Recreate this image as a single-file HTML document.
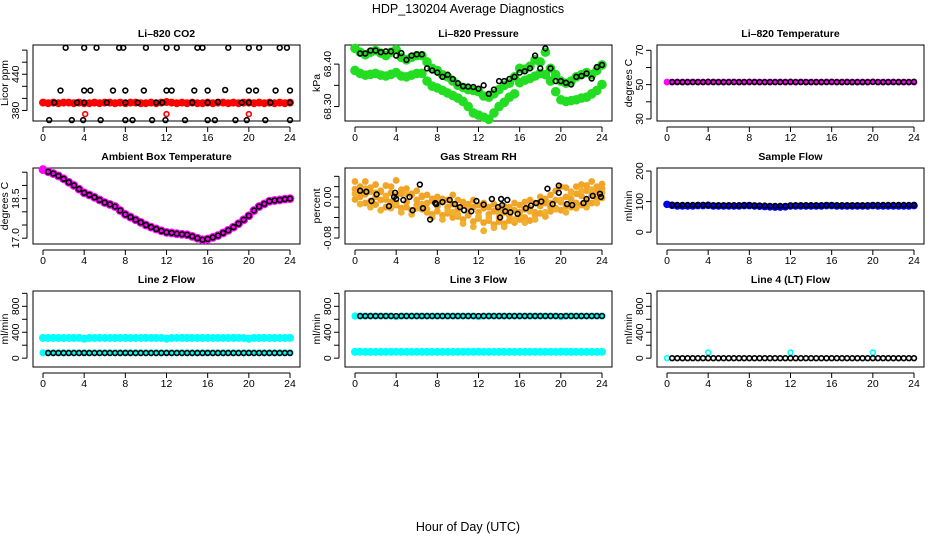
<!DOCTYPE html>
<html><head><meta charset="utf-8"><style>
html,body{margin:0;padding:0;background:#fff;}
svg{display:block;font-family:"Liberation Sans",Arial,sans-serif;}
</style></head><body>
<svg id="chart" width="936" height="540" viewBox="0 0 936 540" xmlns="http://www.w3.org/2000/svg">
<text x="468" y="13" text-anchor="middle" font-size="12.5">HDP_130204   Average Diagnostics</text>
<text x="468" y="531" text-anchor="middle" font-size="12.5">Hour of Day (UTC)</text>
</svg>
<script>
const hoursDense = [0,0.5,1,1.5,2,2.5,3,3.5,4,4.5,5,5.5,6,6.5,7,7.5,8,8.5,9,9.5,10,10.5,11,11.5,12,12.5,13,13.5,14,14.5,15,15.5,16,16.5,17,17.5,18,18.5,19,19.5,20,20.5,21,21.5,22,22.5,23,23.5,24];
const hoursBlack = [0.5,1,1.5,2,2.5,3,3.5,4,4.5,5,5.5,6,6.5,7,7.5,8,8.5,9,9.5,10,10.5,11,11.5,12,12.5,13,13.5,14,14.5,15,15.5,16,16.5,17,17.5,18,18.5,19,19.5,20,20.5,21,21.5,22,22.5,23,23.5,24];
const xTickLabels = [0,4,8,12,16,20,24];

const co2Red = [393,392,393,392,393,393,392,393,392,392,393,392,393,393,392,393,392,393,393,392,392,393,392,393,394,393,392,393,392,393,392,392,393,392,393,393,392,393,392,393,393,392,393,392,393,392,393,392,393];
const co2RedOutHours = [4.1,12,20];
const co2RedOutVals = [374,374,374];
const co2BlackHours = [2.2,4,5.2,7.4,7.8,10,12,13,15,15.5,18,20,21,23,23.7, 1.1,3.3,4,6.2,8,9.2,11,11.6,14.5,16,17,19.3,20,22.1,24, 1.7,4,4.6,6.8,8,9.8,12,12.5,14.7,16,17.7,20,20.7,22.6,24, 0.6,2.8,3.9,5.6,8,8.7,10.6,11.9,13.8,16,16.7,18.7,19.8,21.6,24];
const co2BlackVals = [484,484,484,484,484,484,484,484,484,484,484,484,484,484,484, 393,393,393,393,393,393,393,393,393,393,394,393,393,393,393, 413,413,413,413,413,413,413,413,413,413,414,413,413,413,413, 364,364,364,364,364,364,364,364,364,364,364,364,364,364,364];

const pressA = [68.437,68.428,68.422,68.428,68.432,68.426,68.42,68.428,68.434,68.416,68.41,68.416,68.42,68.42,68.405,68.39,68.385,68.375,68.37,68.36,68.35,68.345,68.34,68.338,68.335,68.325,68.322,68.33,68.34,68.35,68.355,68.37,68.39,68.388,68.395,68.41,68.405,68.428,68.39,68.375,68.36,68.355,68.36,68.37,68.375,68.38,68.375,68.385,68.398];
const pressB = [68.385,68.378,68.374,68.376,68.378,68.374,68.372,68.376,68.38,68.372,68.37,68.374,68.378,68.378,68.36,68.348,68.344,68.338,68.332,68.326,68.32,68.312,68.3,68.285,68.28,68.275,68.27,68.285,68.3,68.31,68.322,68.33,68.356,68.362,68.366,68.372,68.378,68.375,68.36,68.335,68.316,68.312,68.314,68.316,68.32,68.322,68.33,68.338,68.352];
const pressBlack = [68.425,68.425,68.432,68.432,68.428,68.43,68.43,68.42,68.426,68.41,68.42,68.423,68.423,68.39,68.385,68.38,68.37,68.375,68.365,68.355,68.348,68.347,68.346,68.342,68.35,68.33,68.34,68.36,68.36,68.365,68.37,68.38,68.383,68.39,68.42,68.39,68.437,68.39,68.36,68.36,68.356,68.352,68.37,68.372,68.378,68.366,68.393,68.398];

const tempMag = [51.5,51.5,51.6,51.5,51.5,51.6,51.5,51.5,51.5,51.6,51.5,51.5,51.5,51.6,51.5,51.5,51.5,51.6,51.5,51.5,51.5,51.5,51.6,51.5,51.5,51.5,51.6,51.5,51.5,51.5,51.5,51.6,51.5,51.5,51.5,51.6,51.5,51.5,51.5,51.5,51.6,51.5,51.5,51.5,51.6,51.5,51.5,51.5,51.5];
const tempBlack = [51.5,51.5,51.5,51.5,51.5,51.5,51.5,51.6,51.5,51.5,51.5,51.5,51.5,51.5,51.5,51.6,51.5,51.5,51.5,51.5,51.5,51.5,51.5,51.6,51.5,51.5,51.5,51.5,51.5,51.5,51.5,51.6,51.5,51.5,51.5,51.5,51.5,51.5,51.5,51.6,51.5,51.5,51.5,51.5,51.5,51.5,51.5,51.6];

const ambient = [19.6,19.52,19.45,19.36,19.25,19.12,19.0,18.86,18.72,18.64,18.55,18.45,18.35,18.28,18.2,18.05,17.9,17.8,17.7,17.6,17.5,17.42,17.35,17.28,17.22,17.2,17.17,17.15,17.13,17.07,17.0,16.94,16.97,17.03,17.1,17.2,17.3,17.42,17.55,17.7,17.85,18.05,18.2,18.3,18.4,18.43,18.45,18.48,18.5];

const rhOrange1 = [0.015,0.02,0.005,0.01,0.0,0.012,-0.005,0.008,0.003,0.006,-0.01,0.004,-0.006,0.0,-0.012,-0.004,-0.018,-0.01,-0.02,-0.014,-0.024,-0.016,-0.028,-0.02,-0.03,-0.022,-0.034,-0.028,-0.04,-0.03,-0.036,-0.026,-0.03,-0.024,-0.022,-0.03,-0.018,-0.012,-0.02,-0.006,-0.01,0.0,-0.004,0.006,0.002,0.012,0.004,0.01,0.016];
const rhOrange2 = [-0.005,0.0,-0.012,-0.008,-0.015,-0.006,-0.02,-0.01,-0.016,-0.022,-0.02,-0.026,-0.016,-0.024,-0.03,-0.034,-0.028,-0.036,-0.032,-0.04,-0.038,-0.044,-0.036,-0.048,-0.042,-0.05,-0.046,-0.054,-0.048,-0.052,-0.046,-0.05,-0.044,-0.04,-0.046,-0.036,-0.032,-0.038,-0.028,-0.022,-0.026,-0.018,-0.02,-0.012,-0.016,-0.008,-0.012,-0.004,-0.002];
const rhOrange3 = [0.03,0.008,0.03,0.018,0.024,0.01,0.022,0.02,0.032,0.014,0.016,0.006,0.012,0.002,0.004,-0.008,0.0,-0.004,-0.006,0.004,-0.006,-0.01,-0.014,-0.006,-0.016,-0.012,-0.02,-0.014,-0.024,-0.018,-0.02,-0.012,-0.016,-0.01,-0.006,-0.012,0.0,-0.004,0.004,0.012,0.02,0.018,0.01,0.02,0.024,0.022,0.03,0.02,0.025];
const rhOrange4 = [0.006,-0.014,0.016,-0.02,0.008,-0.026,0.002,-0.022,-0.012,-0.03,0.006,-0.034,-0.022,-0.014,-0.024,-0.04,-0.01,-0.044,-0.026,-0.03,-0.034,-0.052,-0.024,-0.058,-0.038,-0.066,-0.04,-0.06,-0.032,-0.058,-0.028,-0.044,-0.036,-0.05,-0.028,-0.044,-0.01,-0.03,-0.012,-0.024,-0.006,-0.03,0.008,-0.022,0.012,-0.02,0.014,-0.012,0.008];
const rhBlack = [0.012,0.01,0.005,-0.008,-0.018,-0.004,0.008,-0.006,0.0,-0.026,0.024,-0.014,-0.012,-0.022,0.0,-0.044,-0.01,-0.006,-0.014,-0.02,-0.026,-0.028,-0.008,-0.015,-0.004,-0.02,-0.016,-0.006,-0.004,-0.04,-0.028,-0.03,-0.033,-0.022,-0.017,-0.012,-0.009,-0.014,0.016,0.008,0.022,-0.014,-0.016,-0.012,-0.004,0.002,0.006,0.0];
const rhBlackHours = [0.5,1.1,2.1,1.6,3.3,4,3.9,4.7,5.3,5.6,6.3,7.9,7.8,6.6,3.8,7.3,8.5,9.2,9.7,10.2,10.6,11.3,11.8,12.5,13.3,13.9,14.3,14.8,14.2,14.1,14.6,15.1,15.8,16.6,17.1,17.6,18.1,19.2,18.7,19.8,19.8,20.6,21.1,22.2,22.5,23.1,23.8,23.9];

const sampleBlue = [91,88,86,86,86,86,87,87,88,86,86,86,86,86,86,87,87,86,85,84,83,82,82,83,86,86,86,86,86,86,86,87,87,86,86,86,86,86,86,86,87,86,86,86,86,86,86,86,87];
const sampleBlack = [89,89,89,89,89,89,89,89,88,88,88,88,88,88,88,88,87,87,87,86,86,86,86,87,88,88,88,88,88,88,88,88,88,88,88,88,88,88,88,88,89,89,89,89,89,89,89,89];

const line2CyanHi = [312,312,313,312,311,312,312,313,300,312,312,313,312,312,311,312,313,312,312,312,313,312,312,312,300,312,312,313,312,312,312,312,313,312,312,312,312,313,312,312,300,312,312,313,312,312,312,312,313];
const line2CyanLo = [82,82,83,82,82,82,82,83,82,82,82,83,82,82,82,82,83,82,82,82,82,83,82,82,82,82,83,82,82,82,82,83,82,82,82,82,83,82,82,82,82,83,82,82,82,82,83,82,82];
const line2Black = [80,80,80,80,80,80,80,81,80,80,80,80,80,80,80,81,80,80,80,80,80,80,80,81,80,80,80,80,80,80,80,81,80,80,80,80,80,80,80,81,80,80,80,80,80,80,80,81];

const line3CyanHi = [650,650,650,650,650,650,650,650,640,650,650,650,650,650,650,650,650,650,650,650,650,650,650,650,640,650,650,650,650,650,650,650,650,650,650,650,650,650,650,650,640,650,650,650,650,650,650,650,650];
const line3CyanLo = [98,100,98,97,98,98,98,98,100,98,98,98,98,98,98,98,98,98,98,98,98,98,98,98,100,98,98,98,98,98,98,98,98,98,98,98,98,98,98,98,100,98,98,98,98,98,98,98,98];
const line3Black = [650,650,650,650,650,650,650,650,650,650,650,650,650,650,650,650,650,650,650,650,650,650,650,650,650,650,650,650,650,650,650,650,650,650,650,650,650,650,650,650,650,650,650,650,650,650,650,650];

const line4CyanHours = [0,4,12,20];
const line4CyanVals = [0,88,88,88];
const line4Black = [0,0,0,0,0,0,0,0,0,0,0,0,0,0,0,0,0,0,0,0,0,0,0,0,0,0,0,0,0,0,0,0,0,0,0,0,0,0,0,0,0,0,0,0,0,0,0,0];

const co2YTicks = [380,400,420,440,460,480];
const co2YLabels = ["380","","","440","",""];
const pressYTicks = [68.30,68.35,68.40];
const pressYLabels = ["68.30","","68.40"];
const tempYTicks = [30,40,50,60,70];
const tempYLabels = ["30","","50","","70"];
const ambYTicks = [17.0,17.5,18.0,18.5,19.0,19.5];
const ambYLabels = ["17.0","","","18.5","",""];
const rhYTicks = [-0.08,-0.06,-0.04,-0.02,0.00,0.02,0.04];
const rhYLabels = ["-0.08","","","","0.00","",""];
const sfYTicks = [0,100,200];
const sfYLabels = ["0","100","200"];
const flowYTicks = [0,200,400,600,800,1000];
const flowYLabels = ["0","","400","","800",""];

const svg = document.getElementById('chart');
const NS = 'http://www.w3.org/2000/svg';
function mk(tag, attrs, parent){
  const e = document.createElementNS(NS, tag);
  for (const k in attrs) e.setAttribute(k, attrs[k]);
  (parent||svg).appendChild(e);
  return e;
}
const colX = [33, 345, 657];
const rowY = [45, 168, 291];
const BW = 267, BH = 76;

function makePanel(col, row, name, title, ylab, yDomain, yTicks, yLabels){
  const g = mk('g', {});
  
  
  const x0 = colX[col], y0 = rowY[row];
  const xs = h => x0 + 10 + h * 247 / 24;
  const ys = v => y0 + BH - (v - yDomain[0]) / (yDomain[1] - yDomain[0]) * BH;
  const t = mk('text', {x: x0 + BW/2, y: y0 - 8, 'text-anchor':'middle', 'font-size':'10.5', 'font-weight':'bold'}, g);
  t.textContent = title;
  
  
  const box = mk('rect', {x: x0, y: y0, width: BW, height: BH, fill:'none', stroke:'#000', 'stroke-width':'1'}, g);
  
  
  const xa = mk('g', {}, g);
  
  
  mk('line', {x1: xs(0), x2: xs(24), y1: y0+BH+6, y2: y0+BH+6, stroke:'#000'}, xa);
  xTickLabels.forEach(h => {
    mk('line', {x1: xs(h), x2: xs(h), y1: y0+BH+6, y2: y0+BH+11, stroke:'#000'}, xa);
    const l = mk('text', {x: xs(h), y: y0+BH+20, 'text-anchor':'middle', 'font-size':'10.5'}, xa);
    l.textContent = h;
  });
  const ya = mk('g', {}, g);
  
  
  mk('line', {x1: x0-6, x2: x0-6, y1: ys(yTicks[0]), y2: ys(yTicks[yTicks.length-1]), stroke:'#000'}, ya);
  yTicks.forEach((v,i) => {
    mk('line', {x1: x0-11, x2: x0-6, y1: ys(v), y2: ys(v), stroke:'#000'}, ya);
    if (yLabels[i]) {
      const l = mk('text', {x: x0-14, y: ys(v), 'text-anchor':'middle', 'font-size':'10.5', transform:`rotate(-90 ${x0-14} ${ys(v)})`}, ya);
      l.textContent = yLabels[i];
    }
  });
  const yt = mk('text', {x: x0-25, y: y0+BH/2, 'text-anchor':'middle', 'font-size':'10.5', transform:`rotate(-90 ${x0-25} ${y0+BH/2})`}, g);
  yt.textContent = ylab;
  
  
  return {g, xs, ys};
}
function dense(p, name, hours, vals, color, r){
  const s = mk('g', {fill: color}, p.g);
  
  
  hours.forEach((h,i) => { mk('circle', {cx: p.xs(h), cy: p.ys(vals[i]), r: r||3.4}, s); });
}
function open(p, name, hours, vals, color){
  const s = mk('g', {fill:'none', stroke: color||'#000', 'stroke-width':'1.6'}, p.g);
  
  
  hours.forEach((h,i) => { mk('circle', {cx: p.xs(h), cy: p.ys(vals[i]), r: 2.4}, s); });
}

// Row 1
let p = makePanel(0,0,'co2','Li\u2013820 CO2','Licor ppm',[362.5,488.5],co2YTicks,co2YLabels);
dense(p,'co2-red-series',hoursDense,co2Red,'#ff0000',4);
open(p,'co2-red-outliers',co2RedOutHours,co2RedOutVals,'#ff0000');
open(p,'co2-black-series',co2BlackHours,co2BlackVals);

p = makePanel(1,0,'pressure','Li\u2013820 Pressure','kPa',[68.266,68.445],pressYTicks,pressYLabels);
dense(p,'pressure-green-band-a',hoursDense,pressA,'#22dd22',4.8);
dense(p,'pressure-green-band-b',hoursDense,pressB,'#22dd22',4.8);
open(p,'pressure-black-series',hoursBlack,pressBlack);

p = makePanel(2,0,'li820-temp','Li\u2013820 Temperature','degrees C',[28.8,73.1],tempYTicks,tempYLabels);
dense(p,'temp-magenta-series',hoursDense,tempMag,'#ff00ff',3.4);
open(p,'temp-black-series',hoursBlack,tempBlack);

// Row 2
p = makePanel(0,1,'ambient','Ambient Box Temperature','degrees C',[16.78,19.66],ambYTicks,ambYLabels);
dense(p,'ambient-magenta-series',hoursDense,ambient,'#ff00ff',4.4);
open(p,'ambient-black-series',hoursBlack,ambient.slice(1));

p = makePanel(1,1,'rh','Gas Stream RH','percent',[-0.0916,0.0562],rhYTicks,rhYLabels);
dense(p,'rh-orange-1',hoursDense,rhOrange1,'#f2a428',3.4);
dense(p,'rh-orange-2',hoursDense,rhOrange2,'#f2a428',3.4);
dense(p,'rh-orange-3',hoursDense,rhOrange3,'#f2a428',3.4);
dense(p,'rh-orange-4',hoursDense,rhOrange4,'#f0b030',3.4);
open(p,'rh-black-series',rhBlackHours,rhBlack);

p = makePanel(2,1,'sample-flow','Sample Flow','ml/min',[-38.7,210],sfYTicks,sfYLabels);
dense(p,'sample-blue-series',hoursDense,sampleBlue,'#0000ee',3.8);
open(p,'sample-black-series',hoursBlack,sampleBlack);

// Row 3
p = makePanel(0,2,'line2','Line 2 Flow','ml/min',[-136,1036],flowYTicks,flowYLabels);
dense(p,'line2-cyan-high',hoursDense,line2CyanHi,'#00ffff',4);
dense(p,'line2-cyan-low',hoursDense,line2CyanLo,'#00ffff',3.6);
open(p,'line2-black-series',hoursBlack,line2Black);

p = makePanel(1,2,'line3','Line 3 Flow','ml/min',[-136,1036],flowYTicks,flowYLabels);
dense(p,'line3-cyan-high',hoursDense,line3CyanHi,'#00ffff',3.6);
dense(p,'line3-cyan-low',hoursDense,line3CyanLo,'#00ffff',4);
open(p,'line3-black-series',hoursBlack,line3Black);

p = makePanel(2,2,'line4','Line 4 (LT) Flow','ml/min',[-136,1036],flowYTicks,flowYLabels);
open(p,'line4-cyan-points',line4CyanHours,line4CyanVals,'#00ffff');
open(p,'line4-black-series',hoursBlack,line4Black);
</script>
</body></html>
